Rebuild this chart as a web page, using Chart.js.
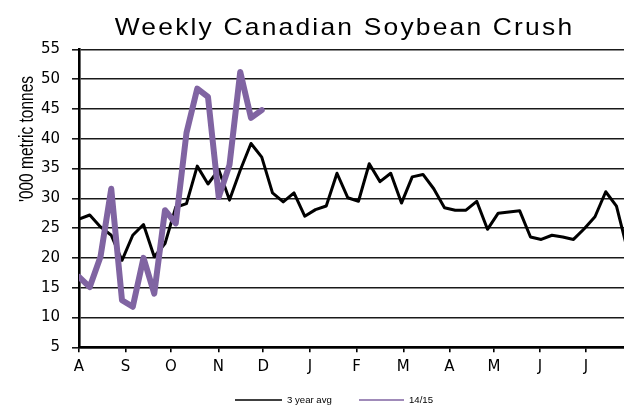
<!DOCTYPE html>
<html><head><meta charset="utf-8">
<script src="https://cdn.jsdelivr.net/npm/chart.js@4.4.1/dist/chart.umd.min.js"></script>
<style>html,body{margin:0;padding:0;background:#fff;}</style>
</head><body>
<canvas id="c" width="624" height="406"></canvas>
<script>
// ---- data ----
const titleText = 'Weekly Canadian Soybean Crush';
const yAxisTitle = "'000 metric tonnes";
const seriesNames = ['3 year avg', '14/15'];
const seriesColors = ['#000000', '#8064A2'];
const weeks = [0,1,2,3,4,5,6,7,8,9,10,11,12,13,14,15,16,17,18,19,20,21,22,23,24,25,
               26,27,28,29,30,31,32,33,34,35,36,37,38,39,40,41,42,43,44,45,46,47,48,49,50,51];
const avg3yr = [26.5,27.2,25.2,23.8,19.6,23.8,25.6,20.2,22.4,28.5,29.1,35.4,32.4,34.8,29.7,34.7,39.2,36.9,
                30.9,29.4,30.9,27.0,28.1,28.7,34.2,30.1,29.5,35.8,32.8,34.2,29.2,33.6,34.0,31.6,28.4,28.0,
                28.0,29.5,24.8,27.5,27.7,27.9,23.5,23.1,23.8,23.5,23.1,24.9,26.9,31.1,28.7,21.5];
const crush1415 = [16.8,15.1,20.2,31.6,12.9,11.8,20.0,14.0,28.0,25.8,41.0,48.4,47.0,30.2,35.6,51.2,43.5,44.8];
const monthLabels = ['A','S','O','N','D','J','F','M','A','M','J','J'];
const monthTickWeeks = [0,4.33,8.56,12.96,17.14,21.49,25.83,30.17,34.45,38.6,42.88,47.16];
const yMin = 5, yMax = 55, yStep = 5;
const xMax = 50.7;

const FONT = '"Liberation Sans", Arial, sans-serif';

const decor = {
  id: 'decor',
  afterDraw(chart) {
    const ctx = chart.ctx;
    ctx.save();
    ctx.fillStyle = '#000';
    // title
    ctx.font = '24px ' + FONT;
    ctx.textAlign = 'center';
    ctx.textBaseline = 'alphabetic';
    ctx.save();
    ctx.letterSpacing = '2px';
    ctx.translate(344.5, 35);
    ctx.scale(1.1, 1);
    ctx.fillText(titleText, 0, 0);
    ctx.restore();
    // y axis title
    ctx.save();
    ctx.translate(27, 139);
    ctx.scale(1.3, 1);
    ctx.rotate(-Math.PI / 2);
    ctx.font = '15.5px ' + FONT;
    ctx.textBaseline = 'middle';
    ctx.fillText(yAxisTitle, 0, 0);
    ctx.restore();
    // legend
    const items = [{x: 235, w: 47}, {x: 359, w: 45}];
    ctx.font = '8.5px ' + FONT;
    ctx.textAlign = 'left';
    ctx.textBaseline = 'middle';
    items.forEach((it, i) => {
      ctx.strokeStyle = seriesColors[i];
      ctx.lineWidth = 1.6;
      ctx.beginPath();
      ctx.moveTo(it.x, 400);
      ctx.lineTo(it.x + it.w, 400);
      ctx.stroke();
      ctx.save();
      ctx.translate(it.x + it.w + 5, 400.5);
      ctx.scale(1.13, 1);
      ctx.fillStyle = '#000';
      ctx.fillText(seriesNames[i], 0, 0);
      ctx.restore();
    });
    ctx.restore();
  }
};

new Chart(document.getElementById('c'), {
  type: 'line',
  data: {
    labels: weeks,
    datasets: [
      {label: seriesNames[0], data: avg3yr, borderColor: seriesColors[0], borderWidth: 3,
       pointRadius: 0, tension: 0, borderJoinStyle: 'round', borderCapStyle: 'round', order: 1, fill: false},
      {label: seriesNames[1], data: crush1415, borderColor: seriesColors[1], borderWidth: 6,
       pointRadius: 0, tension: 0, borderJoinStyle: 'round', borderCapStyle: 'round', order: 0, fill: false}
    ]
  },
  options: {
    responsive: false,
    devicePixelRatio: 1,
    animation: false,
    layout: {padding: {top: 49.3, left: 0, right: 0, bottom: 0}},
    plugins: {legend: {display: false}, title: {display: false}, tooltip: {enabled: false}},
    scales: {
      x: {
        type: 'linear',
        min: 0,
        max: xMax,
        afterBuildTicks: (axis) => { axis.ticks = monthTickWeeks.map(v => ({value: v})); },
        afterFit: (axis) => { axis.height = 406 - 347.3; },
        ticks: {
          autoSkip: false, maxRotation: 0, padding: 6, color: '#000',
          font: {family: '"DejaVu Sans", sans-serif', size: 15},
          callback: (v, i) => monthLabels[i]
        },
        grid: {drawOnChartArea: false, drawTicks: true, tickLength: 5, color: '#000', lineWidth: 1.6},
        border: {display: true, color: '#000', width: 2.6}
      },
      y: {
        min: yMin,
        max: yMax,
        afterFit: (axis) => { axis.width = 79; },
        ticks: {
          stepSize: yStep, padding: 12, color: '#000',
          font: {family: '"DejaVu Sans", sans-serif', size: 15}
        },
        grid: {color: '#1a1a1a', lineWidth: 1.6, tickLength: 7, drawTicks: true},
        border: {display: true, color: '#000', width: 2.6}
      }
    }
  },
  plugins: [decor]
});
</script>
</body></html>
